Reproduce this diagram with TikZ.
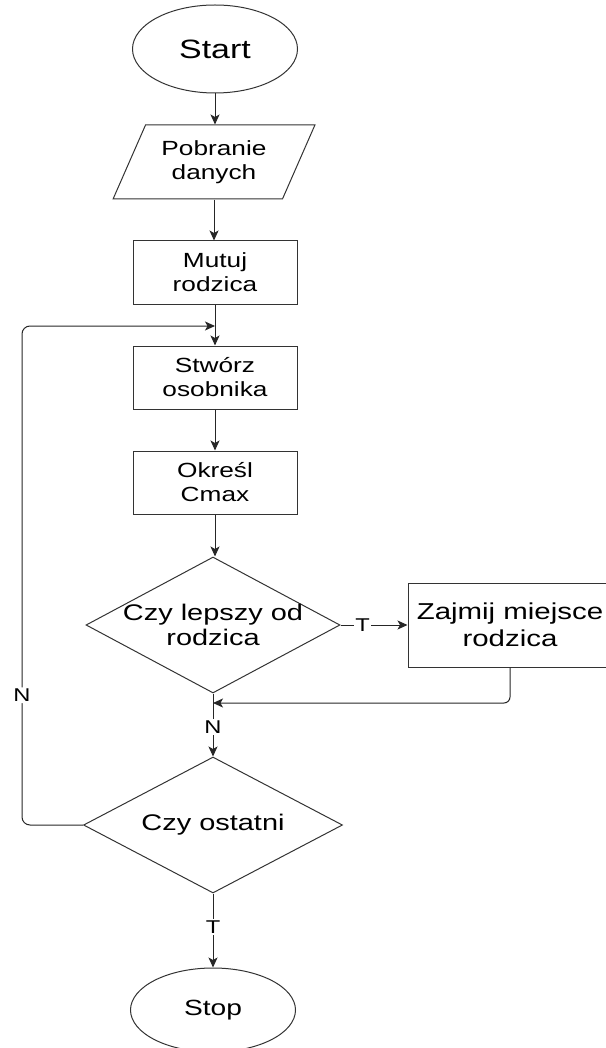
\documentclass[tikz,border=0pt]{standalone}
\usepackage{fontspec}
\setmainfont{Liberation Sans}[FakeStretch=1.28]
\usetikzlibrary{shapes.geometric,arrows.meta}
\begin{document}
\begin{tikzpicture}[x=1pt,y=-1pt,
  shapeline/.style={draw=black!80, line width=1pt},
  box/.style={shapeline, rectangle, minimum width=164pt, minimum height=63pt, inner sep=0pt, align=center, font=\fontsize{20.5}{24}\selectfont},
  term/.style={shapeline, ellipse, minimum width=165pt, inner sep=0pt, align=center},
  dia/.style={shapeline, diamond, inner sep=0pt},
  dtext/.style={align=center, inner sep=0pt, font=\fontsize{22.6}{24.5}\selectfont},
  conn/.style={draw=black!85, line width=1pt, -{Stealth[length=10pt,width=9pt,inset=2.5pt]}},
  lbl/.style={fill=white, inner sep=1.5pt, font=\fontsize{18.5}{18.5}\selectfont}]
\useasboundingbox (0,0) rectangle (605,1048);

\node[term, minimum height=88pt, font=\fontsize{26.5}{30}\selectfont] (start) at (215,49) {Start};
\node[shapeline, trapezium, trapezium left angle=60, trapezium right angle=120, trapezium stretches=true,
      minimum width=202pt, minimum height=74pt, inner sep=0pt, align=center,
      font=\fontsize{20.5}{24}\selectfont] (pob) at (214,162) {Pobranie\\danych};
\node[box] (mut) at (215,272.5) {Mutuj\\rodzica};
\node[box] (stw) at (215,377.5) {Stwórz\\osobnika};
\node[box] (okr) at (215,482.5) {Określ\\Cmax};
\node[dia, minimum width=254pt, minimum height=136pt] (d1) at (213,625) {};
\node[dtext] (d1t) at (d1) {Czy lepszy od\\rodzica};
\node[shapeline, rectangle, minimum width=204pt, minimum height=84pt, inner sep=0pt, align=center,
      font=\fontsize{23}{27}\selectfont] (zaj) at (510,625) {Zajmij miejsce\\rodzica};
\node[dia, minimum width=259pt, minimum height=136pt] (d2) at (213,825) {};
\node[dtext] (d2t) at (d2) {Czy ostatni};
\node[term, minimum height=84pt, font=\fontsize{22}{26}\selectfont] (stop) at (213,1010) {Stop};

\coordinate (y703) at (0,703);
\coordinate (y326) at (0,326);
\coordinate (lbot) at (22,825);
\coordinate (ltop) at (22,326);

\draw[conn] (start.south) -- (start.south |- pob.north);
\draw[conn] (pob.south) -- (pob.south |- mut.north);
\draw[conn] (mut.south) -- (mut.south |- stw.north);
\draw[conn] (stw.south) -- (stw.south |- okr.north);
\draw[conn] (okr.south) -- (okr.south |- d1.north);
\draw[conn] (d1.east) -- node[lbl, pos=0.33] {T} (zaj.west);
\draw[conn, rounded corners=6pt] (zaj.south) |- (d1.south |- y703);
\draw[conn] (d1.south) -- node[lbl, pos=0.53] {N} (d2.north);
\draw[conn, rounded corners=8pt] (d2.west) -- (lbot) -- node[lbl, pos=0.26] {N} (ltop) -- (mut.south |- y326);
\draw[conn] (d2.south) -- node[lbl, pos=0.45] {T} (stop.north);
\end{tikzpicture}
\end{document}
